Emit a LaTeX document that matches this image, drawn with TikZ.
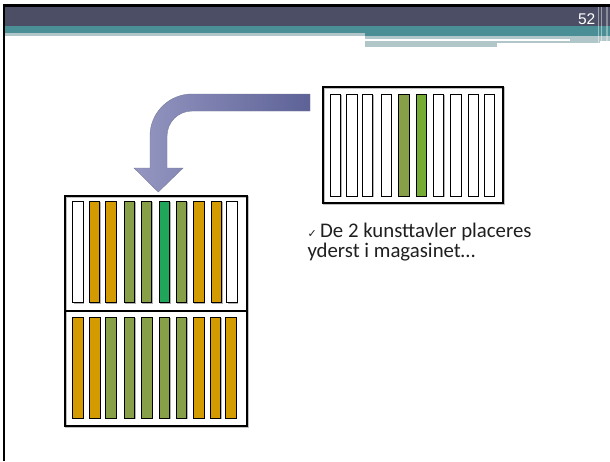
\documentclass[tikz,border=0pt]{standalone}
\usepackage{fontspec}
\setmainfont{Carlito}
\newfontfamily\arialf{Liberation Sans}
\newfontfamily\dejavu{DejaVu Sans}
\definecolor{hdr}{HTML}{4B4E64}
\definecolor{teal1}{HTML}{4A8F95}
\definecolor{lgrey}{HTML}{B1C6C8}
\definecolor{orng}{HTML}{D49B00}
\definecolor{olive}{HTML}{87A048}
\definecolor{grn}{HTML}{20A65B}
\definecolor{lgrn}{HTML}{76AC34}
\definecolor{arrL}{HTML}{9597C1}
\definecolor{arrD}{HTML}{5D6297}
\definecolor{txt}{HTML}{1F1F1F}
\tikzset{
  barbox/.style={draw=black, line width=0.7pt},
  barshadow/.style={fill=black!30},
  bigbox/.style={draw=black, line width=2pt},
}
\begin{document}
\begin{tikzpicture}[x=1pt,y=-1pt]
\useasboundingbox (0,0) rectangle (610,461);
\fill[white] (0,0) rectangle (610,461);
% header
\fill[hdr] (5,7) rectangle (610,26);
\fill[teal1] (5,26) rectangle (365,33);
\fill[lgrey] (5,33) rectangle (365,35.5);
\fill[teal1] (365,26) rectangle (610,36);
\fill[lgrey] (365,36) rectangle (610,39);
\fill[white] (365,39) rectangle (570,40.5);
\fill[lgrey] (570,39) rectangle (610,40.5);
\fill[lgrey] (365,40.5) rectangle (497,47);
\fill[lgrey] (497,40.5) rectangle (600,43);
\fill[white, opacity=0.45] (597.5,7) rectangle (599,45);
\fill[white, opacity=0.45] (601,7) rectangle (602,45);
\fill[white, opacity=0.35] (605.5,7) rectangle (607.5,47);
% borders
\fill[black] (3,4) rectangle (610,7);
\fill[black] (3,4) rectangle (5.3,461);
\node[text=white, font=\arialf\fontsize{15.5}{15.5}\selectfont, anchor=base east, inner sep=0pt] (pg) at (595.5,24) {52};

% arrow
\shade[left color=arrL, right color=arrD, draw=arrL!80!black, line width=0.4pt]
  (310,94) -- (192,94) arc[start angle=270, end angle=180, radius=42]
  -- (150,168) -- (134,168) -- (158.3,192) -- (183,168) -- (167,168)
  -- (167,136) arc[start angle=180, end angle=270, radius=25]
  -- (310,111) -- cycle;

% right box
\draw[black!25, line width=2pt] (323.7,88.3) rectangle (504.3,203.7);
\draw[bigbox] (322.7,87.3) rectangle (503.3,202.7);
\foreach \x/\c in {330.3/white,346.7/white,362.3/white,381/white,398.7/olive,416/lgrn,433.3/white,450.7/white,468/white,484/white}{
  \fill[barshadow] (\x+0.9,94.9) rectangle (\x+11.3,196.9);
  \filldraw[barbox, fill=\c] (\x,94) rectangle (\x+10.4,196);
}

% left box
\draw[black!25, line width=2pt] (66.3,197) rectangle (247.7,427);
\draw[bigbox] (65.3,196) rectangle (246.7,426);
\draw[bigbox] (65.3,311) -- (246.7,311);
\foreach \x/\c in {72.7/white,89/orng,105.3/orng,124/olive,141/olive,159/grn,176/olive,193.3/orng,211/orng,226.7/white}{
  \fill[barshadow] (\x+0.9,201.9) rectangle (\x+11.5,303.6);
  \filldraw[barbox, fill=\c] (\x,201) rectangle (\x+10.6,302.7);
}
\foreach \x/\c in {72.7/orng,89.3/orng,105.7/olive,124/olive,141.3/olive,159/olive,176/olive,193.3/orng,210/orng,225.7/orng}{
  \fill[barshadow] (\x+0.9,318.2) rectangle (\x+11.5,419.2);
  \filldraw[barbox, fill=\c] (\x,317.3) rectangle (\x+10.6,418.3);
}

% text
\node[anchor=base west, inner sep=0pt, text=txt, align=left,
      font=\fontsize{20.8}{20}\selectfont] (t1) at (307.3,257.7)
  {{\dejavu\fontsize{11}{11}\selectfont ✓}\,De 2 kunsttavler placeres\\yderst i magasinet…};
\end{tikzpicture}
\end{document}
